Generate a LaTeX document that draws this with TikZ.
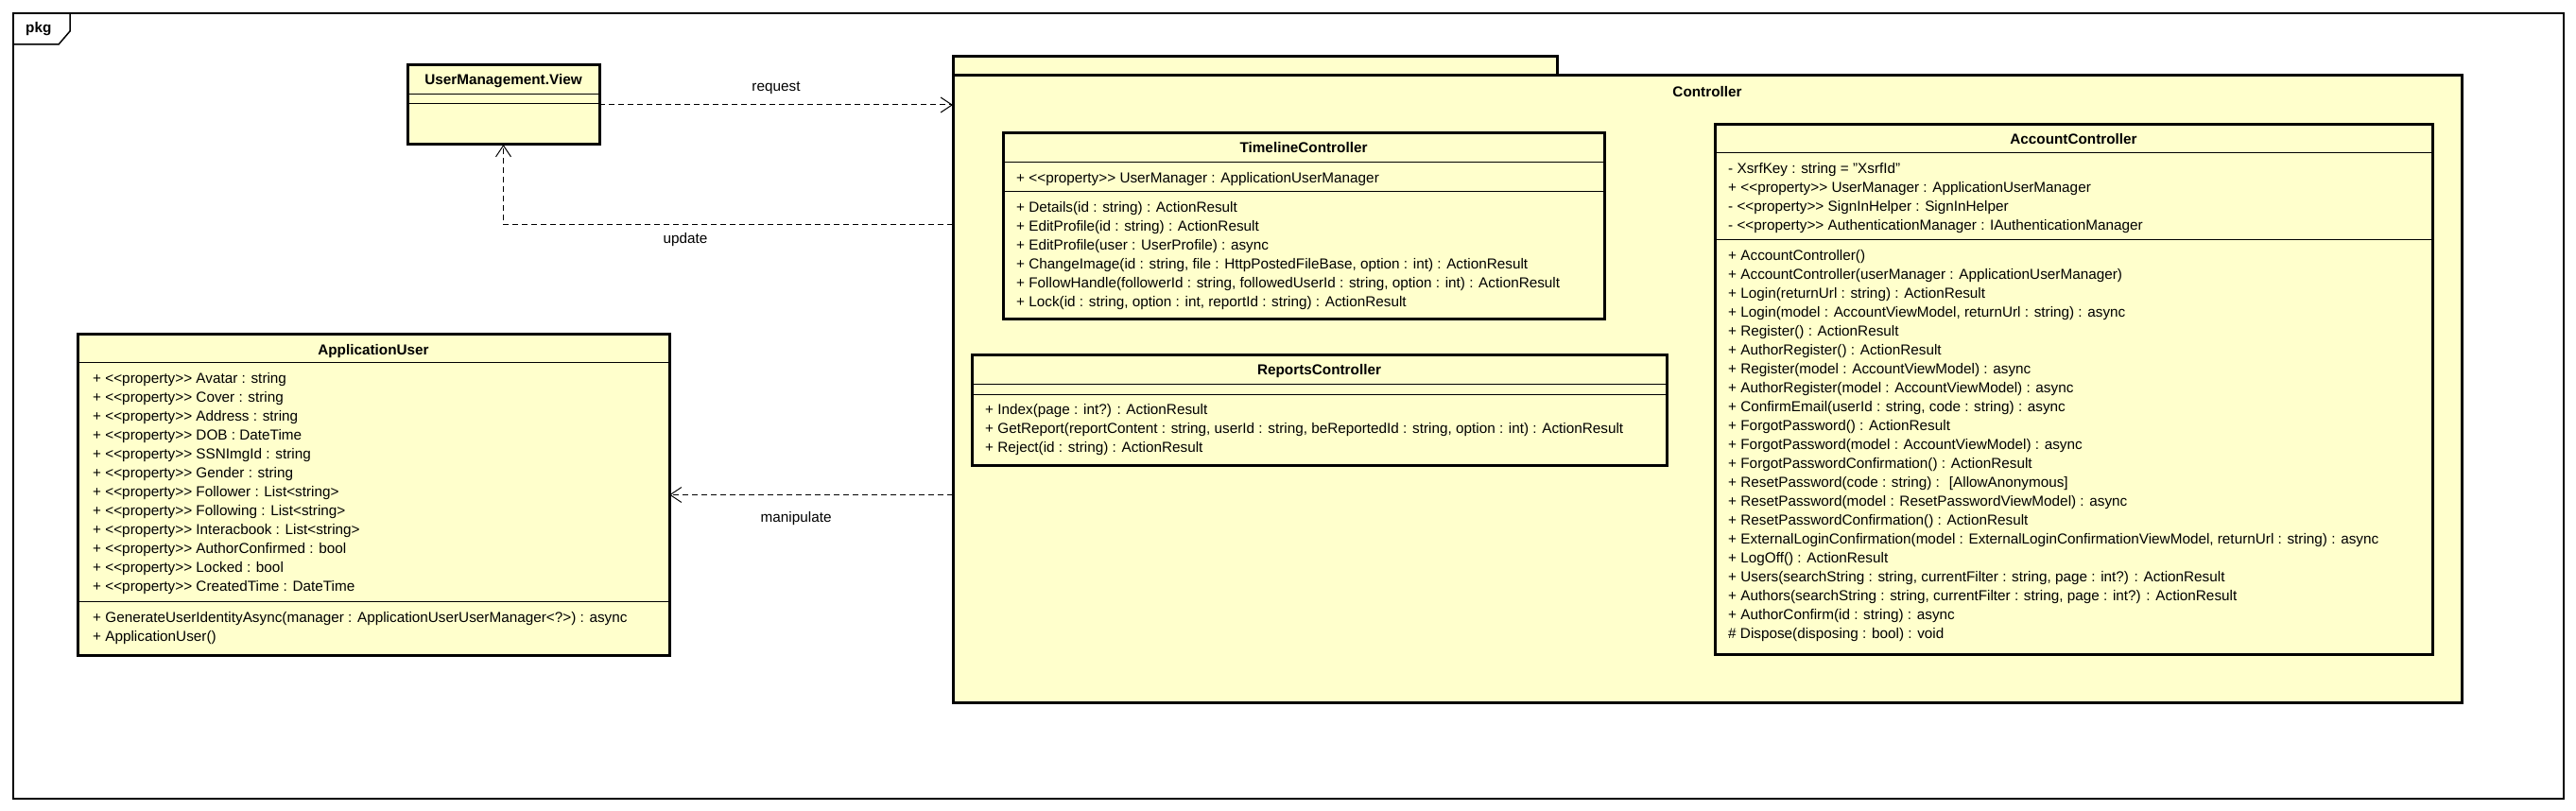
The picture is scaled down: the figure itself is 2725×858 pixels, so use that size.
\documentclass[tikz,border=0pt]{standalone}
\usepackage{fontspec}
\setmainfont{Liberation Sans}
\usetikzlibrary{arrows.meta}
\definecolor{umlfill}{RGB}{255,255,204}
\newcommand\LL{<\kern0pt<}
\newcommand\GG{>\kern0pt>}
\newcommand\umlfont{\fontsize{15.3}{20}\selectfont}
\newcommand\umlrows[4]{%
  \foreach \t [count=\i] in {#4} {%
    \node[rowtext] (#1-\i) at (#2, {#3+20*(\i-1)}) {\t};
  }}
\begin{document}
\begin{tikzpicture}[x=1pt,y=-1pt,
  rowtext/.style={anchor=west, inner sep=0pt, font=\umlfont, text height=11pt, text depth=3.2pt},
  titletext/.style={inner sep=0pt, font=\umlfont\bfseries, text height=11pt, text depth=3.2pt},
  lbl/.style={inner sep=0pt, font=\umlfont, text height=11pt, text depth=3.2pt},
  classbox/.style={draw=black, line width=3pt, fill=umlfill, inner sep=0pt, outer sep=0pt, anchor=north west},
  sepline/.style={line width=1pt},
  dep/.style={line width=1pt, dash pattern=on 6pt off 4pt, -{Straight Barb[length=12pt,width=16pt]}}]

\useasboundingbox (0,0) rectangle (2725,858);
\fill[white] (0,0) rectangle (2725,858);

% frame
\node[draw=black, line width=1.5pt, minimum width=2698pt, minimum height=831pt, anchor=north west, inner sep=0pt, outer sep=0pt] (frame) at (14,14) {};
\draw[line width=1.5pt] (14,47) -- (62,47) -- (74,33) -- (74,14);
\node[titletext, anchor=west] (pkg) at (27,31) {pkg};

% Controller package
\node[classbox, minimum width=639pt, minimum height=20pt] (ctrltab) at (1008,60) {};
\node[classbox, minimum width=1596pt, minimum height=663pt] (ctrl) at (1008,80) {};
\node[titletext] (ctrl-t) at (1806,99) {Controller};

% UserManagement.View
\node[classbox, minimum width=203pt, minimum height=84pt] (view) at (431,69) {};
\draw[sepline] (431,100) -- (634,100);
\draw[sepline] (431,110) -- (634,110);
\node[titletext] (view-t) at (532.5,86) {UserManagement.View};

% TimelineController
\node[classbox, minimum width=636pt, minimum height=197pt] (tl) at (1061,141) {};
\draw[sepline] (1061,172) -- (1697,172);
\draw[sepline] (1061,203) -- (1697,203);
\node[titletext] (tl-t) at (1379,158) {TimelineController};
\umlrows{tla}{1075}{190}{{+ \LL property\GG{} UserManager : ApplicationUserManager}}
\umlrows{tlm}{1075}{221}{%
{+ Details(id : string) : ActionResult},
{+ EditProfile(id : string) : ActionResult},
{+ EditProfile(user : UserProfile) : async},
{+ ChangeImage(id : string, file : HttpPostedFileBase, option : int) : ActionResult},
{+ FollowHandle(followerId : string, followedUserId : string, option : int) : ActionResult},
{+ Lock(id : string, option : int, reportId : string) : ActionResult}}

% ReportsController
\node[classbox, minimum width=735pt, minimum height=116pt] (rc) at (1028,376) {};
\draw[sepline] (1028,406) -- (1763,406);
\draw[sepline] (1028,417) -- (1763,417);
\node[titletext] (rc-t) at (1395.5,393) {ReportsController};
\umlrows{rcm}{1042}{435}{%
{+ Index(page : int?) : ActionResult},
{+ GetReport(reportContent : string, userId : string, beReportedId : string, option : int) : ActionResult},
{+ Reject(id : string) : ActionResult}}

% AccountController
\node[classbox, minimum width=759pt, minimum height=560pt] (ac) at (1814,132) {};
\draw[sepline] (1814,162) -- (2573,162);
\draw[sepline] (1814,254) -- (2573,254);
\node[titletext] (ac-t) at (2193.5,149) {AccountController};
\umlrows{aca}{1828}{180}{%
{- XsrfKey : string = "XsrfId"},
{+ \LL property\GG{} UserManager : ApplicationUserManager},
{- \LL property\GG{} SignInHelper : SignInHelper},
{- \LL property\GG{} AuthenticationManager : IAuthenticationManager}}
\umlrows{acm}{1828}{272}{%
{+ AccountController()},
{+ AccountController(userManager : ApplicationUserManager)},
{+ Login(returnUrl : string) : ActionResult},
{+ Login(model : AccountViewModel, returnUrl : string) : async},
{+ Register() : ActionResult},
{+ AuthorRegister() : ActionResult},
{+ Register(model : AccountViewModel) : async},
{+ AuthorRegister(model : AccountViewModel) : async},
{+ ConfirmEmail(userId : string, code : string) : async},
{+ ForgotPassword() : ActionResult},
{+ ForgotPassword(model : AccountViewModel) : async},
{+ ForgotPasswordConfirmation() : ActionResult},
{+ ResetPassword(code : string) : \ [AllowAnonymous]},
{+ ResetPassword(model : ResetPasswordViewModel) : async},
{+ ResetPasswordConfirmation() : ActionResult},
{+ ExternalLoginConfirmation(model : ExternalLoginConfirmationViewModel, returnUrl : string) : async},
{+ LogOff() : ActionResult},
{+ Users(searchString : string, currentFilter : string, page : int?) : ActionResult},
{+ Authors(searchString : string, currentFilter : string, page : int?) : ActionResult},
{+ AuthorConfirm(id : string) : async},
{\# Dispose(disposing : bool) : void}}

% ApplicationUser
\node[classbox, minimum width=626pt, minimum height=339pt] (au) at (82,354) {};
\draw[sepline] (82,384) -- (708,384);
\draw[sepline] (82,636) -- (708,636);
\node[titletext] (au-t) at (395,372) {ApplicationUser};
\umlrows{aua}{98}{402}{%
{+ \LL property\GG{} Avatar : string},
{+ \LL property\GG{} Cover : string},
{+ \LL property\GG{} Address : string},
{+ \LL property\GG{} DOB : DateTime},
{+ \LL property\GG{} SSNImgId : string},
{+ \LL property\GG{} Gender : string},
{+ \LL property\GG{} Follower : List<string>},
{+ \LL property\GG{} Following : List<string>},
{+ \LL property\GG{} Interacbook : List<string>},
{+ \LL property\GG{} AuthorConfirmed : bool},
{+ \LL property\GG{} Locked : bool},
{+ \LL property\GG{} CreatedTime : DateTime}}
\umlrows{aum}{98}{655}{%
{+ GenerateUserIdentityAsync(manager : ApplicationUserUserManager<?>) : async},
{+ ApplicationUser()}}

% connectors
\draw[dep] (view.east) -- node[lbl, above=11pt] (lbl-req) {request} (view.east -| ctrl.west);
\coordinate (updstart) at (1008,238);
\coordinate (updcorner) at (view.south |- updstart);
\draw[dep] (updstart) -- node[lbl, below=8pt, pos=0.595] (lbl-upd) {update} (updcorner) -- (view.south);
\draw[dep] (ctrl.west |- au.east) -- node[lbl, below=17pt, pos=0.553] (lbl-man) {manipulate} (au.east);
\end{tikzpicture}
\end{document}
